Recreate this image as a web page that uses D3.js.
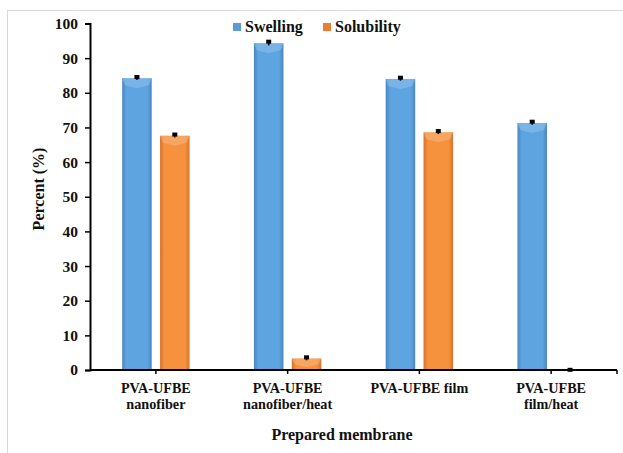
<!DOCTYPE html>
<html><head><meta charset="utf-8">
<script src="https://cdn.jsdelivr.net/npm/d3@7"></script>
<style>body{margin:0;background:#fff}svg{display:block}text{font-family:"Liberation Serif","Times New Roman",serif;font-weight:bold;fill:#111}</style>
</head><body>
<script>
const categories = [["PVA-UFBE","nanofiber"],["PVA-UFBE","nanofiber/heat"],["PVA-UFBE film"],["PVA-UFBE","film/heat"]];
const seriesNames = ["Swelling","Solubility"];
const swelling = [84.2, 94.3, 84.0, 71.3];
const solubility = [67.6, 3.3, 68.6, 0.0];
const swellingErr = [0.5, 0.6, 0.5, 0.5];
const solubilityErr = [0.5, 0.5, 0.5, 0.2];
const yTicks = [0,10,20,30,40,50,60,70,80,90,100];

const W=623,H=453;
const svg=d3.select("body").append("svg").attr("width",W).attr("height",H);
const defs=svg.append("defs");
function grad(id,c0,c1){
  const g=defs.append("linearGradient").attr("id",id).attr("x1","0").attr("x2","1").attr("y1","0").attr("y2","0");
  g.append("stop").attr("offset","0").attr("stop-color",c1);
  g.append("stop").attr("offset","0.15").attr("stop-color",c0);
  g.append("stop").attr("offset","0.85").attr("stop-color",c0);
  g.append("stop").attr("offset","1").attr("stop-color",c1);
}
grad("gBlue","#5ea4e0","#4a86c0");
grad("gOrange","#f6913e","#d8732a");
const colors={Swelling:"url(#gBlue)",Solubility:"url(#gOrange)"};
const legendColors={Swelling:"#5b9bd5",Solubility:"#ed7d31"};
const topColors={Swelling:"#8cc0ec",Solubility:"#f9b27a"};

// frame
svg.append("rect").attr("x",7.5).attr("y",10.5).attr("width",W).attr("height",H).attr("fill","none").attr("stroke","#d9d9d9");

const x0=90,x1=617,yb=370,yt=23.5;
const x=d3.scaleBand().domain(d3.range(categories.length)).range([x0,x1]);
const y=d3.scaleLinear().domain([0,100]).range([yb,yt]);
const xs=d3.scaleBand().domain(seriesNames).range([0,x.bandwidth()]).paddingInner(0.22).paddingOuter(0.85);

const data=[swelling,solubility];
const errs=[swellingErr,solubilityErr];
seriesNames.forEach((s,si)=>{
  const g=svg.append("g");
  data[si].forEach((v,i)=>{
    const bx=x(i)+xs(s), bw=xs.bandwidth(), by=y(v), bh=yb-y(v);
    if(bh<=0) return;
    g.append("rect").attr("x",bx).attr("y",by).attr("width",bw).attr("height",bh).attr("fill",colors[s]);
    const bev=Math.min(7,bh/2);
    g.append("path").attr("d",`M${bx},${by}L${bx+bw},${by}L${bx+bw-3},${by+bev}L${bx+bw/2},${by+bev+3}L${bx+3},${by+bev}Z`)
      .attr("fill",topColors[s]).attr("opacity",0.6);
  });
  data[si].forEach((v,i)=>{
    const cx=x(i)+xs(s)+xs.bandwidth()/2, e=errs[si][i];
    const ya=y(v+e), yb2=y(Math.max(0,v-e));
    g.append("line").attr("x1",cx).attr("x2",cx).attr("y1",ya).attr("y2",yb2).attr("stroke","#000").attr("stroke-width",1.5);
    g.append("rect").attr("x",cx-2.5).attr("y",ya-1.5).attr("width",5).attr("height",4).attr("fill","#000");
  });
});

// y axis
const yAx=svg.append("g").attr("transform",`translate(${x0},0)`).call(d3.axisLeft(y).tickValues(yTicks).tickSize(5).tickPadding(7));
yAx.select(".domain").attr("stroke","#000").attr("stroke-width",2);
yAx.selectAll(".tick line").attr("stroke","#000").attr("stroke-width",1.5);
yAx.selectAll("text").style("font-size","15.5px").style("font-family","'Liberation Serif',serif").style("font-weight","bold").attr("fill","#111");

// x axis
const xa=svg.append("g").attr("transform",`translate(0,${yb})`);
xa.append("line").attr("x1",x0).attr("x2",x1).attr("stroke","#000").attr("stroke-width",2);
categories.forEach((c,i)=>{
  const cx=x(i)+x.bandwidth()/2;
  xa.append("line").attr("x1",cx).attr("x2",cx).attr("y1",0).attr("y2",4).attr("stroke","#000").attr("stroke-width",1.5);
  const t=xa.append("text").attr("text-anchor","middle").style("font-size","14.2px");
  c.forEach((ln,j)=>t.append("tspan").attr("x",cx).attr("y",23+j*15.5).text(ln));
});
xa.append("line").attr("x1",x1).attr("x2",x1).attr("y1",0).attr("y2",4).attr("stroke","#000").attr("stroke-width",1.5);

// titles
svg.append("text").attr("transform",`translate(44,189) rotate(-90)`).attr("text-anchor","middle").style("font-size","16px").text("Percent (%)");
svg.append("text").attr("x",342).attr("y",440).attr("text-anchor","middle").style("font-size","16px").text("Prepared membrane");

// legend
const lg=svg.append("g");
const lx=[233,323];
seriesNames.forEach((s,i)=>{
  lg.append("rect").attr("x",lx[i]).attr("y",23).attr("width",8).attr("height",8).attr("fill",legendColors[s]);
  lg.append("text").attr("x",lx[i]+12).attr("y",32).style("font-size","16px").text(s);
});
</script>
</body></html>
